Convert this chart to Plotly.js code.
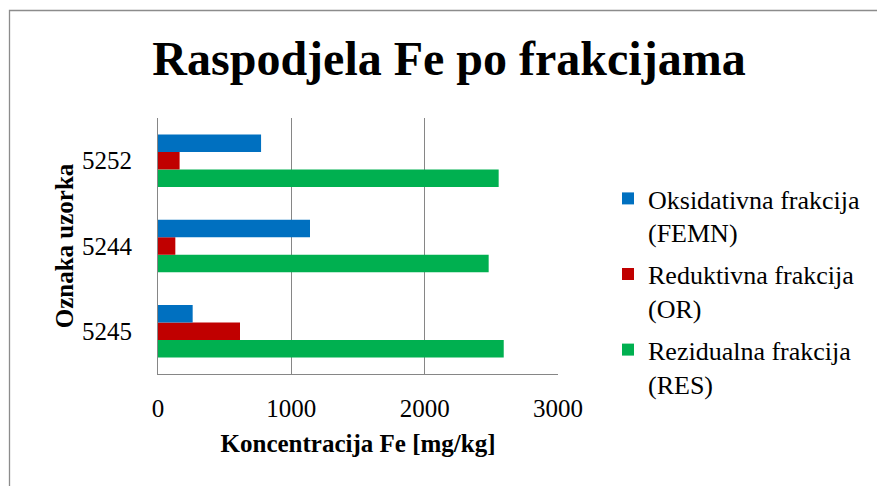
<!DOCTYPE html>
<html>
<head>
<meta charset="utf-8">
<script src="https://cdn.plot.ly/plotly-3.0.1.min.js"></script>
<style>
  html, body { margin: 0; padding: 0; background: #fff; }
  #chart { width: 877px; height: 486px; }
</style>
</head>
<body>
<div id="chart"></div>
<script>
// Data
const samples = ['5245', '5244', '5252'];
const oksidativna = [260, 1140, 773];   // Oksidativna frakcija (FEMN)
const reduktivna = [615, 130, 162];     // Reduktivna frakcija (OR)
const rezidualna = [2593, 2480, 2555];  // Rezidualna frakcija (RES)
const seriesNames = ['Oksidativna frakcija<br>(FEMN)', 'Reduktivna frakcija<br>(OR)', 'Rezidualna frakcija<br>(RES)'];
const xTicks = [0, 1000, 2000, 3000];

const FONT = 'Liberation Serif';

// Plot area geometry (px)
const L = 158, R = 558, T = 118, B = 374;
const W = R - L, H = B - T;
const px = x => (x - L) / W;
const py = y => (B - y) / H;

const traces = [
  { type: 'bar', orientation: 'h', name: seriesNames[2], legendgroup: 'c', legendrank: 3, y: samples, x: rezidualna, marker: { color: '#00B050' } },
  { type: 'bar', orientation: 'h', name: seriesNames[1], legendgroup: 'b', legendrank: 2, y: samples, x: reduktivna, marker: { color: '#C00000' } },
  { type: 'bar', orientation: 'h', name: seriesNames[0], legendgroup: 'a', legendrank: 1, y: samples, x: oksidativna, marker: { color: '#0070C0' } }
];

const layout = {
  width: 877, height: 486,
  margin: { l: L, r: 877 - R, t: T, b: 486 - B, pad: 0 },
  paper_bgcolor: '#ffffff', plot_bgcolor: '#ffffff',
  font: { family: FONT, color: '#000000', size: 25 },
  barmode: 'group', bargap: 0.384, bargroupgap: 0,
  title: {
    text: 'Raspodjela Fe po frakcijama',
    font: { family: FONT, size: 48, weight: 'bold', color: '#000' },
    xref: 'container', x: 449 / 877, xanchor: 'center',
    yref: 'container', y: 1 - 58 / 486, yanchor: 'middle'
  },
  xaxis: {
    range: [0, 3000], tickvals: xTicks, ticktext: xTicks.map(String),
    showgrid: true, gridcolor: '#868686', gridwidth: 1,
    showline: true, linecolor: '#868686', linewidth: 1,
    zeroline: false, ticks: '', ticklabelstandoff: 12,
    tickfont: { family: FONT, size: 25 },
    title: { text: 'Koncentracija Fe [mg/kg]', font: { family: FONT, size: 25, weight: 'bold' }, standoff: 13 },
    fixedrange: true
  },
  yaxis: {
    type: 'category', categoryorder: 'array', categoryarray: samples,
    showgrid: false, showline: true, linecolor: '#868686', linewidth: 1,
    zeroline: false, ticks: '', ticklabelstandoff: 20,
    tickfont: { family: FONT, size: 25 },
    title: { text: 'Oznaka uzorka', font: { family: FONT, size: 25, weight: 'bold' }, standoff: 1 },
    fixedrange: true
  },
  legend: {
    x: px(608), xanchor: 'left', y: py(175), yanchor: 'top',
    traceorder: 'grouped', tracegroupgap: 5, valign: 'top',
    font: { family: FONT, size: 26 },
    bgcolor: 'rgba(0,0,0,0)', itemwidth: 30
  },
  shapes: [{
    type: 'rect', xref: 'paper', yref: 'paper',
    x0: px(9.5), x1: px(900), y0: py(500), y1: py(10.5),
    line: { color: '#8c8c8c', width: 1.3 }, fillcolor: 'rgba(0,0,0,0)', layer: 'below'
  }],
  showlegend: true
};

Plotly.newPlot('chart', traces, layout, { displayModeBar: false, staticPlot: true });
</script>
</body>
</html>
